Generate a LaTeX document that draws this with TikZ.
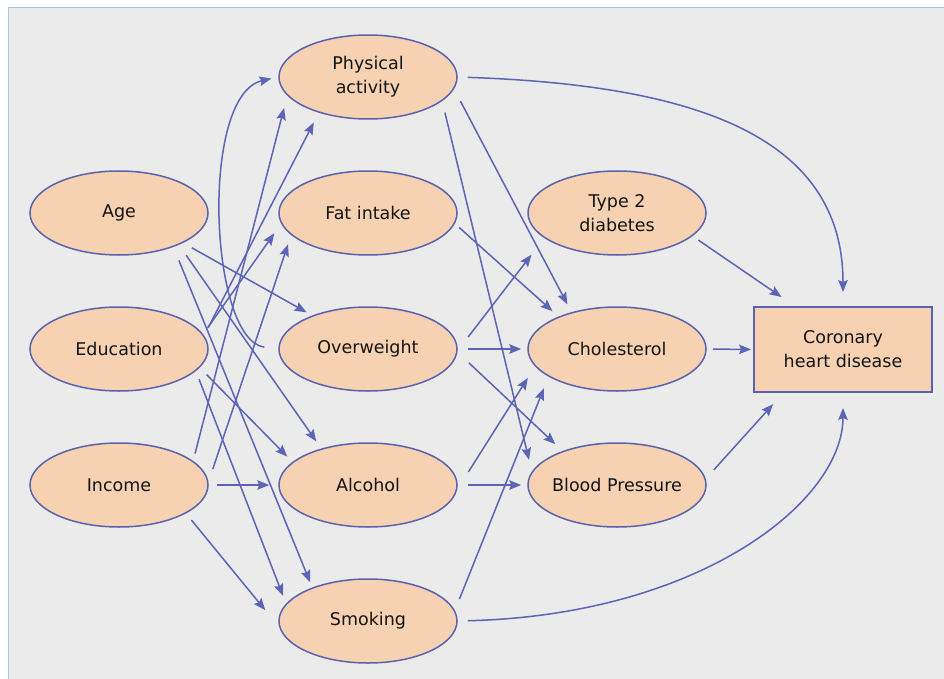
\documentclass[tikz,border=0pt]{standalone}
\usepackage{fontspec}
\setmainfont{DejaVu Sans}
\usetikzlibrary{shapes.geometric,arrows.meta}
\definecolor{bgc}{HTML}{EBEBEB}
\definecolor{framec}{HTML}{A9C3E6}
\definecolor{nodefill}{HTML}{F6D2B2}
\definecolor{nodeline}{HTML}{5A62AE}
\definecolor{arrc}{HTML}{5C64B6}
\definecolor{txtc}{HTML}{141414}
\tikzset{
  factor/.style={ellipse, draw=nodeline, fill=nodefill, line width=1.5pt,
    minimum width=178pt, minimum height=84pt, inner sep=-12pt, text=txtc,
    align=center, font=\fontsize{17.5}{24}\selectfont},
  outcome/.style={rectangle, draw=nodeline, fill=nodefill, line width=1.9pt,
    minimum width=178pt, minimum height=85pt, inner sep=0pt, text=txtc,
    align=center, font=\fontsize{17.5}{24}\selectfont},
  arr/.style={draw=arrc, line width=1.5pt, -{Stealth[length=12pt,width=9.5pt,inset=2pt]}},
  sh/.style 2 args={shorten <=#1pt, shorten >=#2pt}
}
\begin{document}
\begin{tikzpicture}[x=1pt,y=-1pt]
\useasboundingbox (0,0) rectangle (944,679);
\fill[white] (0,0) rectangle (944,679);
\fill[bgc] (8,8) rectangle (944,679);
\draw[framec, line width=1pt] (8,679) -- (8,8) -- (944,8);

\node[factor] (age) at (119,213) {Age};
\node[factor] (edu) at (119,349) {Education};
\node[factor] (inc) at (119,485) {Income};
\node[factor] (pa)  at (368,77)  {Physical\\activity};
\node[factor] (fat) at (368,213) {Fat intake};
\node[factor] (ow)  at (368,349) {Overweight};
\node[factor] (alc) at (368,485) {Alcohol};
\node[factor] (smk) at (368,621) {Smoking};
\node[factor] (t2d) at (617,213) {Type 2\\diabetes};
\node[factor] (chol) at (617,349) {Cholesterol};
\node[factor] (bp)  at (617,485) {Blood Pressure};
\node[outcome] (chd) at (843,349.5) {Coronary\\heart disease};

% left block
\draw[arr,sh={10}{6.5}] (age.-25.8) -- (ow.149.3);
\draw[arr,sh={12.7}{8.6}] (age.-28.3) -- (alc.142);
\draw[arr,sh={14.5}{5.7}] (age.-32.1) -- (smk.149.6);
\draw[arr,sh={9}{11}] (edu.9.5) -- (pa.216.4);
\draw[arr,sh={7.8}{11.7}] (edu.10) -- (fat.187);
\draw[arr,sh={9.7}{7.4}] (edu.-13.6) -- (alc.163);
\draw[arr,sh={8.8}{8.3}] (edu.-16.9) -- (smk.168.7);
\draw[arr,sh={7.6}{12.7}] (inc.18.9) -- (pa.193.2);
\draw[arr,sh={13.5}{9.8}] (inc.2.8) -- (fat.196.9);
\draw[arr,sh={8}{9}] (inc.east) -- (alc.west);
\draw[arr,sh={8.5}{22}] (inc.-23.4) -- (smk.184);
\draw[arr,sh={14}{7}] (ow.west) .. controls +(-69,-9) and +(-79,18) .. (pa.west);

% right block
\draw[arr,sh={13.5}{8.8}] (pa.-8.7) -- (chol.141);
\draw[arr,sh={11.8}{12}] (pa.-18.8) -- (bp.171);
\draw[arr,sh={10}{14}] (pa.east) .. controls +(233,8) and +(0,-172) .. (chd.north);
\draw[arr,sh={5.7}{8}] (fat.-7.4) -- (chol.151.3);
\draw[arr,sh={17}{21}] (ow.-1.4) -- (t2d.199.7);
\draw[arr,sh={10}{6}] (ow.east) -- (chol.west);
\draw[arr,sh={15.5}{10}] (ow.-2.2) -- (bp.148.8);
\draw[arr,sh={21}{13.5}] (alc.-3.2) -- (chol.192.4);
\draw[arr,sh={10}{6}] (alc.east) -- (bp.west);
\draw[arr,sh={12}{12.5}] (smk.7.9) -- (chol.202.3);
\draw[arr,sh={10}{15}] (smk.east) .. controls +(243,-6) and +(0,108) .. (chd.south);
\draw[arr,sh={7}{16}] (t2d.-17.3) -- (chd.138.5);
\draw[arr,sh={6}{2}] (chol.east) -- (chd.west);
\draw[arr,sh={12}{15}] (bp.4) -- (chd.216.3);
\end{tikzpicture}
\end{document}
